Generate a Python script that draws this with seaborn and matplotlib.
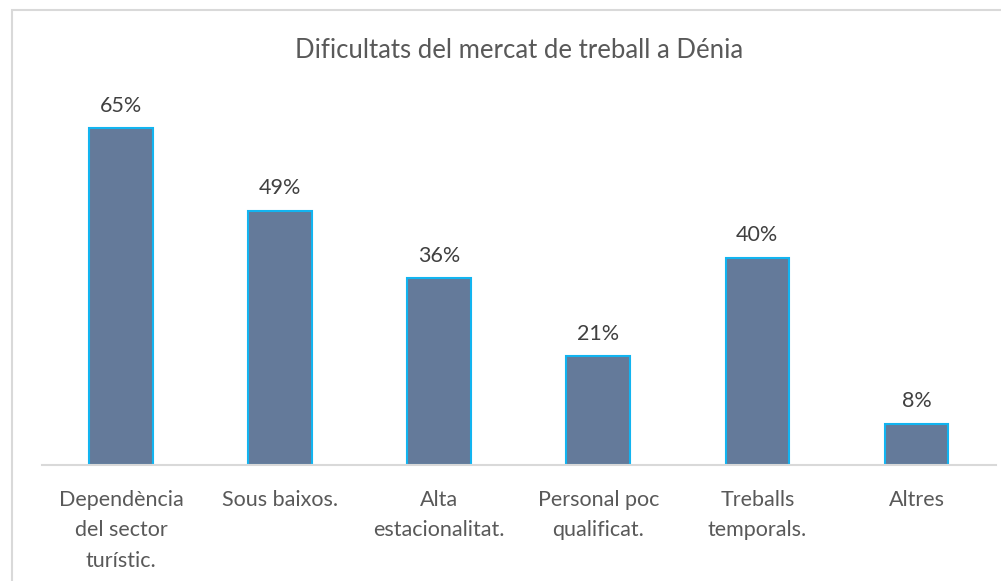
import numpy as np
import pandas as pd
import seaborn as sns
import matplotlib.pyplot as plt
from matplotlib.patches import Rectangle

categories = ["Dependència\ndel sector\nturístic.", "Sous baixos.", "Alta\nestacionalitat.",
              "Personal poc\nqualificat.", "Treballs\ntemporals.", "Altres"]
values = [65, 49, 36, 21, 40, 8]
title = "Dificultats del mercat de treball a Dénia"

df = pd.DataFrame({"cat": categories, "val": values})

sns.set_theme(style="white")
plt.rcParams['font.family'] = ['Lato', 'DejaVu Sans']

W, H = 1001, 581
fig = plt.figure(figsize=(W / 100, H / 100), dpi=100)
ax = fig.add_axes([41.5 / W, 1 - 465 / H, (996 - 41.5) / W, (465 - 60) / H])

sns.barplot(data=df, x="cat", y="val", ax=ax, color="#647A9A", width=0.40,
            edgecolor="#12B4F0", linewidth=1.5, saturation=1)

ax.set_ylim(0, (465 - 60) / (337 / 65))
ax.set_xlim(-0.5, len(categories) - 0.5)
ax.set_xlabel("")
ax.set_ylabel("")
ax.set_yticks([])
for s in ["top", "right", "left"]:
    ax.spines[s].set_visible(False)
ax.spines["bottom"].set_color("#D9D9D9")
ax.spines["bottom"].set_linewidth(1.5)
ax.tick_params(axis="x", length=0, pad=18, labelsize=15.5, labelcolor="#595959")
for lab in ax.get_xticklabels():
    lab.set_linespacing(1.65)

for c in ax.containers:
    ax.bar_label(c, labels=[f"{v}%" for v in values], padding=9, fontsize=15.5, color="#404040")

fig.text(519 / W, 1 - 50 / H, title, ha="center", va="center", fontsize=18.5, color="#595959")

fig.add_artist(Rectangle((11.5 / W, -0.05), 1.2, 1 - 9.5 / H + 0.05, transform=fig.transFigure,
                         fill=False, edgecolor="#D9D9D9", linewidth=1.5))

fig.savefig("out.png", dpi=100)
